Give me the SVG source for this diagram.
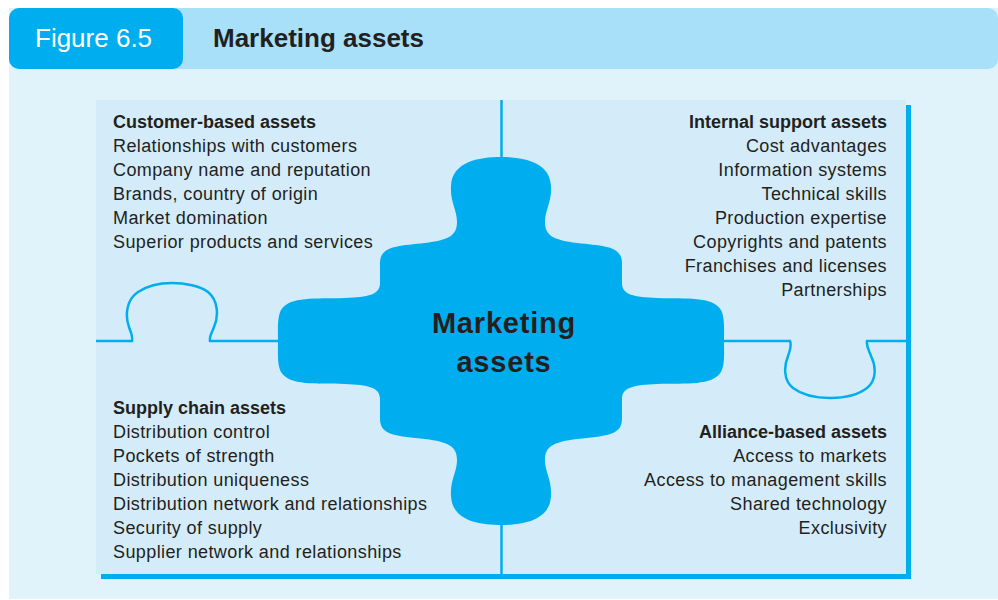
<svg xmlns="http://www.w3.org/2000/svg" width="998" height="600" viewBox="0 0 998 600">
  <style>
    .t { font-family: "Liberation Sans", Arial, sans-serif; fill: #231F20; }
    .item { font-size: 18px; letter-spacing: 0.4px; }
    .head { font-size: 18px; font-weight: bold; }
    .r { text-anchor: end; }
    .line { fill: none; stroke: #00AEEF; stroke-width: 2.5; }
  </style>
  <rect width="998" height="600" fill="#FFFFFF"/>
  <g id="background">
    <rect x="9" y="8" width="989" height="591" fill="#E0F3FB"/>
    <rect x="9" y="8" width="989" height="61" rx="10" fill="#A8DFF9"/>
  </g>
  <g id="title">
    <rect x="9" y="8" width="174" height="61" rx="10" fill="#00AEEF"/>
    <text class="t" x="35" y="47" font-size="26" style="fill:#FFFFFF">Figure 6.5</text>
    <text class="t" x="213" y="47" font-size="26" font-weight="bold">Marketing assets</text>
  </g>
  <g id="panel">
    <rect x="101" y="105" width="810" height="474" fill="#00AEEF"/>
    <rect x="96" y="100" width="810" height="474" fill="#D4ECF9"/>
  </g>
  <g id="connectors">
    <line class="line" x1="501.5" y1="100" x2="501.5" y2="170"/>
    <line class="line" x1="501.5" y1="510" x2="501.5" y2="574"/>
    <path class="line" d="M96,341 H132 C133,336 131,333 129,327 C125,316 126,300 138,292 C150,284 165,283 172,283 C185,283 200,286 208,292 C218,300 219,316 214,327 C212,333 209,336 210,341 H290"/>
    <path class="line" d="M712,341 H790 C792,346 790,350 788,356 C784,366 783,380 793,388 C805,397 820,398 830,398 C845,398 858,395 867,388 C877,380 876,366 871,356 C869,350 866,346 867,341 H906"/>
  </g>
  <g id="marketing-assets">
    <path fill="#00AEEF" d="M501,157 C478,157 452,162 451,186 C450,202 457,210 457,222 C457,236 448,240 425,243 C398,246 380,246 380,263 L380,283 C380,295 368,297 345,298 C315,299 290,296 281,310 C277,318 278,330 278,341 C278,352 277,364 281,372 C290,386 315,383 345,384 C368,385 380,387 380,399 L380,419 C380,436 398,436 425,439 C448,442 457,446 457,460 C457,472 450,480 451,496 C452,520 478,525 501,525 C524,525 550,520 551,496 C552,480 545,472 545,460 C545,446 554,442 577,439 C604,436 622,436 622,419 L622,399 C622,387 634,385 657,384 C687,383 712,386 721,372 C725,364 724,352 724,341 C724,330 725,318 721,310 C712,296 687,299 657,298 C634,297 622,295 622,283 L622,263 C622,246 604,246 577,243 C554,240 545,236 545,222 C545,210 552,202 551,186 C550,162 524,157 501,157 Z"/>
    <text class="t" x="504" y="333" font-size="29" font-weight="bold" text-anchor="middle" letter-spacing="0.8">Marketing</text>
    <text class="t" x="504" y="372" font-size="29" font-weight="bold" text-anchor="middle" letter-spacing="0.8">assets</text>
  </g>
  <g id="customer-based-assets">
    <text class="t head" x="113" y="128">Customer-based assets</text>
    <text class="t item" x="113" y="152">Relationships with customers</text>
    <text class="t item" x="113" y="176">Company name and reputation</text>
    <text class="t item" x="113" y="200">Brands, country of origin</text>
    <text class="t item" x="113" y="224">Market domination</text>
    <text class="t item" x="113" y="248">Superior products and services</text>
  </g>
  <g id="internal-support-assets">
    <text class="t head r" x="887" y="128">Internal support assets</text>
    <text class="t item r" x="887" y="152">Cost advantages</text>
    <text class="t item r" x="887" y="176">Information systems</text>
    <text class="t item r" x="887" y="200">Technical skills</text>
    <text class="t item r" x="887" y="224">Production expertise</text>
    <text class="t item r" x="887" y="248">Copyrights and patents</text>
    <text class="t item r" x="887" y="272">Franchises and licenses</text>
    <text class="t item r" x="887" y="296">Partnerships</text>
  </g>
  <g id="supply-chain-assets">
    <text class="t head" x="113" y="414">Supply chain assets</text>
    <text class="t item" x="113" y="438">Distribution control</text>
    <text class="t item" x="113" y="462">Pockets of strength</text>
    <text class="t item" x="113" y="486">Distribution uniqueness</text>
    <text class="t item" x="113" y="510">Distribution network and relationships</text>
    <text class="t item" x="113" y="534">Security of supply</text>
    <text class="t item" x="113" y="558">Supplier network and relationships</text>
  </g>
  <g id="alliance-based-assets">
    <text class="t head r" x="887" y="438">Alliance-based assets</text>
    <text class="t item r" x="887" y="462">Access to markets</text>
    <text class="t item r" x="887" y="486">Access to management skills</text>
    <text class="t item r" x="887" y="510">Shared technology</text>
    <text class="t item r" x="887" y="534">Exclusivity</text>
  </g>
</svg>
